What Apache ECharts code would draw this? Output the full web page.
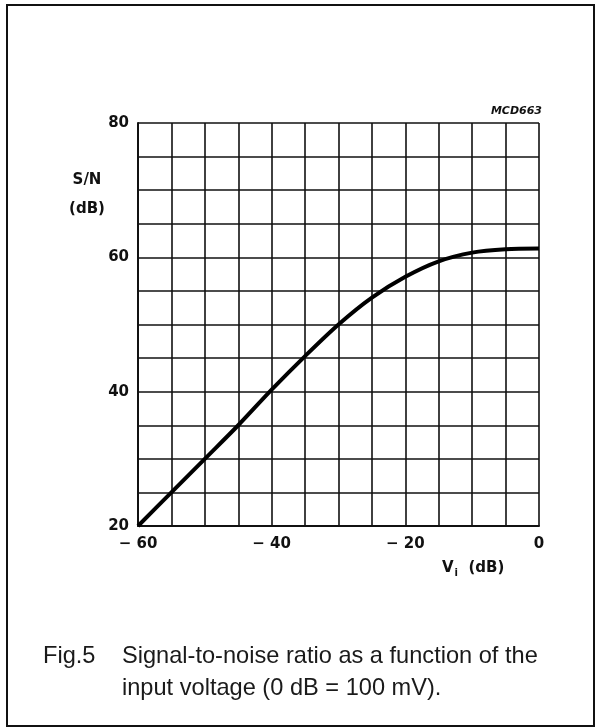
<!DOCTYPE html>
<html>
<head>
<meta charset="utf-8">
<script src="https://cdn.jsdelivr.net/npm/echarts@6/dist/echarts.min.js"></script>
<style>
html,body{margin:0;padding:0;background:#fff;}
#c{width:603px;height:728px;}
</style>
</head>
<body>
<div id="c"></div>
<script>
// Data
var viDb = [-60, -55, -50, -45, -40, -35, -30, -25, -20, -15, -10, -5, 0];
var snDb = [20, 25, 30, 35, 40.3, 45.3, 50.0, 54.0, 57.1, 59.4, 60.7, 61.2, 61.3];
var xTickLabels = [-60, -40, -20, 0];
var yTickLabels = [20, 40, 60, 80];

var points = viDb.map(function (v, i) { return [v, snDb[i]]; });
var chart = echarts.init(document.getElementById('c'), null, {renderer: 'canvas'});
var tickFont = {fontFamily: 'DejaVu Sans', fontWeight: 'bold', fontSize: 15, color: '#111'};

chart.setOption({
  backgroundColor: '#fff',
  animation: false,
  grid: {left: 138, right: 64, top: 123, bottom: 202, containLabel: false},
  xAxis: {
    type: 'value', min: -60, max: 0, interval: 5,
    axisLine: {show: true, onZero: false, lineStyle: {color: '#111', width: 2}},
    axisTick: {show: false},
    splitLine: {show: true, lineStyle: {color: '#111', width: 1.6}},
    axisLabel: Object.assign({
      margin: 11,
      formatter: function (v) {
        if (xTickLabels.indexOf(v) < 0) return '';
        return v < 0 ? '\u2212 ' + Math.abs(v) : String(v);
      }
    }, tickFont)
  },
  yAxis: {
    type: 'value', min: 20, max: 80, interval: 5,
    axisLine: {show: true, onZero: false, lineStyle: {color: '#111', width: 2}},
    axisTick: {show: false},
    splitLine: {show: true, lineStyle: {color: '#111', width: 1.6}},
    axisLabel: Object.assign({
      margin: 9,
      formatter: function (v) { return yTickLabels.indexOf(v) < 0 ? '' : String(v); }
    }, tickFont)
  },
  series: [{
    type: 'line',
    data: points,
    smooth: 0.3,
    symbol: 'none',
    lineStyle: {color: '#000', width: 4},
    z: 5
  }],
  graphic: [
    {type: 'rect', shape: {x: 7, y: 5, width: 587, height: 721},
     style: {fill: 'none', stroke: '#111', lineWidth: 2}, silent: true},
    {type: 'text', x: 542, y: 111,
     style: {text: 'MCD663', fontFamily: 'DejaVu Sans', fontWeight: 'bold', fontStyle: 'italic', fontSize: 11,
             fill: '#111', align: 'right', verticalAlign: 'middle'}},
    {type: 'text', x: 87, y: 180,
     style: {text: 'S/N', fontFamily: 'DejaVu Sans', fontWeight: 'bold', fontSize: 15,
             fill: '#111', align: 'center', verticalAlign: 'middle'}},
    {type: 'text', x: 87, y: 209,
     style: {text: '(dB)', fontFamily: 'DejaVu Sans', fontWeight: 'bold', fontSize: 15,
             fill: '#111', align: 'center', verticalAlign: 'middle'}},
    {type: 'text', x: 442, y: 568,
     style: {text: '{v|V}{s|i}{v|  (dB)}', fill: '#111', align: 'left', verticalAlign: 'middle',
             rich: {
               v: {fontFamily: 'DejaVu Sans', fontWeight: 'bold', fontSize: 15, fill: '#111'},
               s: {fontFamily: 'DejaVu Sans', fontWeight: 'bold', fontSize: 10, fill: '#111', padding: [10, 0, 0, 1]}
             }}},
    {type: 'text', x: 43, y: 656,
     style: {text: 'Fig.5', fontFamily: 'Liberation Sans', fontSize: 23.6, fill: '#1a1a1a',
             align: 'left', verticalAlign: 'middle'}},
    {type: 'text', x: 122, y: 656,
     style: {text: 'Signal-to-noise ratio as a function of the', fontFamily: 'Liberation Sans', fontSize: 23.6,
             fill: '#1a1a1a', align: 'left', verticalAlign: 'middle'}},
    {type: 'text', x: 122, y: 688,
     style: {text: 'input voltage (0 dB = 100 mV).', fontFamily: 'Liberation Sans', fontSize: 23.6,
             fill: '#1a1a1a', align: 'left', verticalAlign: 'middle'}}
  ]
});
</script>
</body>
</html>
